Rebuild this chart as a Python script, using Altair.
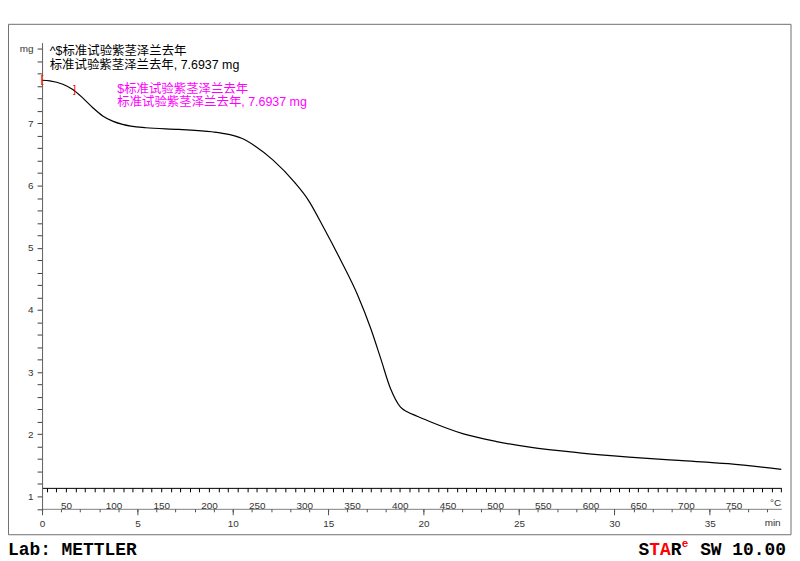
import altair as alt
import pandas as pd

# ---- data (TGA curve) ----
time_min = [0.0, 0.40, 1.09, 1.61, 2.13, 2.65, 3.18, 3.70, 4.22, 5.43, 7.17, 8.90,
            9.77, 10.46, 11.16, 12.11, 13.24, 13.94, 14.80, 15.67, 16.54, 17.23,
            17.75, 18.27, 18.79, 19.14, 19.66, 20.35, 22.09, 23.83, 25.56, 28.16,
            30.77, 33.37, 35.97, 38.75]
mass_mg = [7.694, 7.685, 7.630, 7.545, 7.410, 7.255, 7.120, 7.037, 6.984, 6.930,
           6.904, 6.866, 6.824, 6.760, 6.637, 6.409, 6.051, 5.775, 5.300, 4.790,
           4.240, 3.700, 3.220, 2.730, 2.435, 2.360, 2.290, 2.200, 2.005, 1.882,
           1.792, 1.701, 1.633, 1.578, 1.526, 1.435]

marker_t = [0.0, 1.70]
marker_m = [7.694, 7.53]
marker_glyph = ["[", "]"]

time_major = [0, 5, 10, 15, 20, 25, 30, 35]
time_minor = list(range(0, 39))
temp_ticks = list(range(30, 801, 10))
mass_ticks = [round(0.8 + 0.2 * i, 1) for i in range(38)]

T_START = 25
T_END = 800
TIME_END = 38.75

black_lines = ["^$标准试验紫茎泽兰去年", "标准试验紫茎泽兰去年, 7.6937 mg"]
pink_lines = ["$标准试验紫茎泽兰去年", "标准试验紫茎泽兰去年, 7.6937 mg"]
lab_text = "Lab: METTLER"

# ---- layout ----
W, H = 744.4, 469.5
OX, OY = 42.3, 40.9          # page position of plot origin


def px(x):
    return x - OX


def py(y):
    return y - OY


LATIN = "Liberation Sans"
MIXED = "'Liberation Sans', 'Noto Sans CJK SC'"
MONO = "Liberation Mono"
PINK = "#FF00FF"

tscale = alt.Scale(domain=[0, TIME_END], nice=False, zero=False)
yscale = alt.Scale(domain=[0.8, 8.3], nice=False, zero=False)

y_axis = alt.Axis(orient="left", values=mass_ticks, tickSize=5, labelPadding=4,
                  labelExpr="datum.value > 8.1 ? 'mg' : ((datum.value < 7.5 && abs(datum.value - round(datum.value)) < 0.001) ? format(datum.value, 'd') : '')",
                  domainColor="#606060", tickColor="#404040", labelColor="#333333",
                  labelFont=LATIN, labelFontSize=10, grid=False, title=None,
                  labelFlush=False, labelOverlap=False)

df = pd.DataFrame({"t": time_min, "m": mass_mg})
mk = pd.DataFrame({"t": marker_t, "m": marker_m, "g": marker_glyph})

curve = alt.Chart(df).mark_line(color="black", strokeWidth=1.2, interpolate="monotone").encode(
    x=alt.X("t:Q", scale=tscale,
            axis=alt.Axis(orient="bottom", values=time_major, tickSize=6, labelPadding=4,
                          domainColor="#808080", tickColor="#505050", labelColor="#333333",
                          labelFont=LATIN, labelFontSize=10, grid=False, title=None,
                          labelFlush=False, labelOverlap=False)),
    y=alt.Y("m:Q", scale=yscale, axis=y_axis),
)

minor_time = alt.Chart(df).mark_point(opacity=0).encode(
    x=alt.X("t:Q", scale=tscale,
            axis=alt.Axis(orient="bottom", values=time_minor, tickSize=3, labels=False,
                          domain=False, tickColor="#505050", grid=False, title=None)),
)

temp_axis = alt.Chart(df).transform_calculate(
    T=f"{T_START} + datum.t * {(T_END - T_START) / TIME_END}"
).mark_point(opacity=0).encode(
    x=alt.X("T:Q", scale=alt.Scale(domain=[T_START, T_END], nice=False, zero=False),
            axis=alt.Axis(orient="bottom", offset=-21.1, values=temp_ticks, tickSize=4,
                          labelPadding=9,
                          labelExpr="(datum.value % 50 == 0 && datum.value < 800) ? datum.label : ''",
                          domainColor="#000000", tickColor="#000000", labelColor="#333333",
                          labelFont=LATIN, labelFontSize=10, grid=False, title=None,
                          labelFlush=False, labelOverlap=False)),
)

markers = alt.Chart(mk).mark_text(color="#FF0000", fontSize=11, font=LATIN,
                                  baseline="middle", align="center").encode(
    x=alt.X("t:Q", scale=tscale, axis=None),
    y=alt.Y("m:Q", scale=yscale, axis=y_axis),
    text="g:N",
)


def label(text, x, y, color="#000000", size=12.5, font=MIXED, weight="normal",
          align="left", baseline="middle"):
    return alt.Chart(pd.DataFrame({"s": [text]})).mark_text(
        color=color, fontSize=size, font=font, fontWeight=weight,
        align=align, baseline=baseline
    ).encode(x=alt.value(x), y=alt.value(y), text="s:N")


texts = [
    label(black_lines[0], px(50), py(49.5)),
    label(black_lines[1], px(50), py(63)),
    label(pink_lines[0], px(118), py(88), color=PINK),
    label(pink_lines[1], px(118), py(101), color=PINK),
    label("°C", px(781), py(505), color="#333333", size=10, font=LATIN, align="center"),
    label("min", px(778), py(525), color="#333333", size=10, font=LATIN, align="center"),
    label(lab_text, px(8), py(557), size=18, font=MONO, weight="bold", baseline="alphabetic"),
    label("S", px(643), py(556.5), size=18, font=MONO, weight="bold", baseline="alphabetic"),
    label("TA", px(653.8), py(556.5), color="#FF0000", size=18, font=MONO, weight="bold", baseline="alphabetic"),
    label("R", px(675.4), py(556.5), size=18, font=MONO, weight="bold", baseline="alphabetic"),
    label("e", px(686.5), py(549), color="#FF0000", size=11, font=MONO, weight="bold", baseline="alphabetic"),
    label("SW 10.00", px(705), py(556.5), size=18, font=MONO, weight="bold", baseline="alphabetic"),
]

frame = alt.Chart(pd.DataFrame({"a": [0]})).mark_rect(
    fillOpacity=0, stroke="#707070", strokeWidth=1
).encode(x=alt.value(px(8.5)), x2=alt.value(px(796.5)),
         y=alt.value(py(22.5)), y2=alt.value(py(536.5)))

chart = alt.layer(frame, curve, minor_time, temp_axis, markers, *texts).resolve_scale(
    x="independent"
).properties(
    width=W, height=H,
    padding={"left": OX - 8, "top": OY - 8, "right": 797.5 - OX - W, "bottom": 559 - OY - H},
    autosize=alt.AutoSizeParams(type="none"),
    background="white",
).configure_view(stroke=None)

chart.save("out.html", embed_options={"renderer": "svg", "actions": False})
